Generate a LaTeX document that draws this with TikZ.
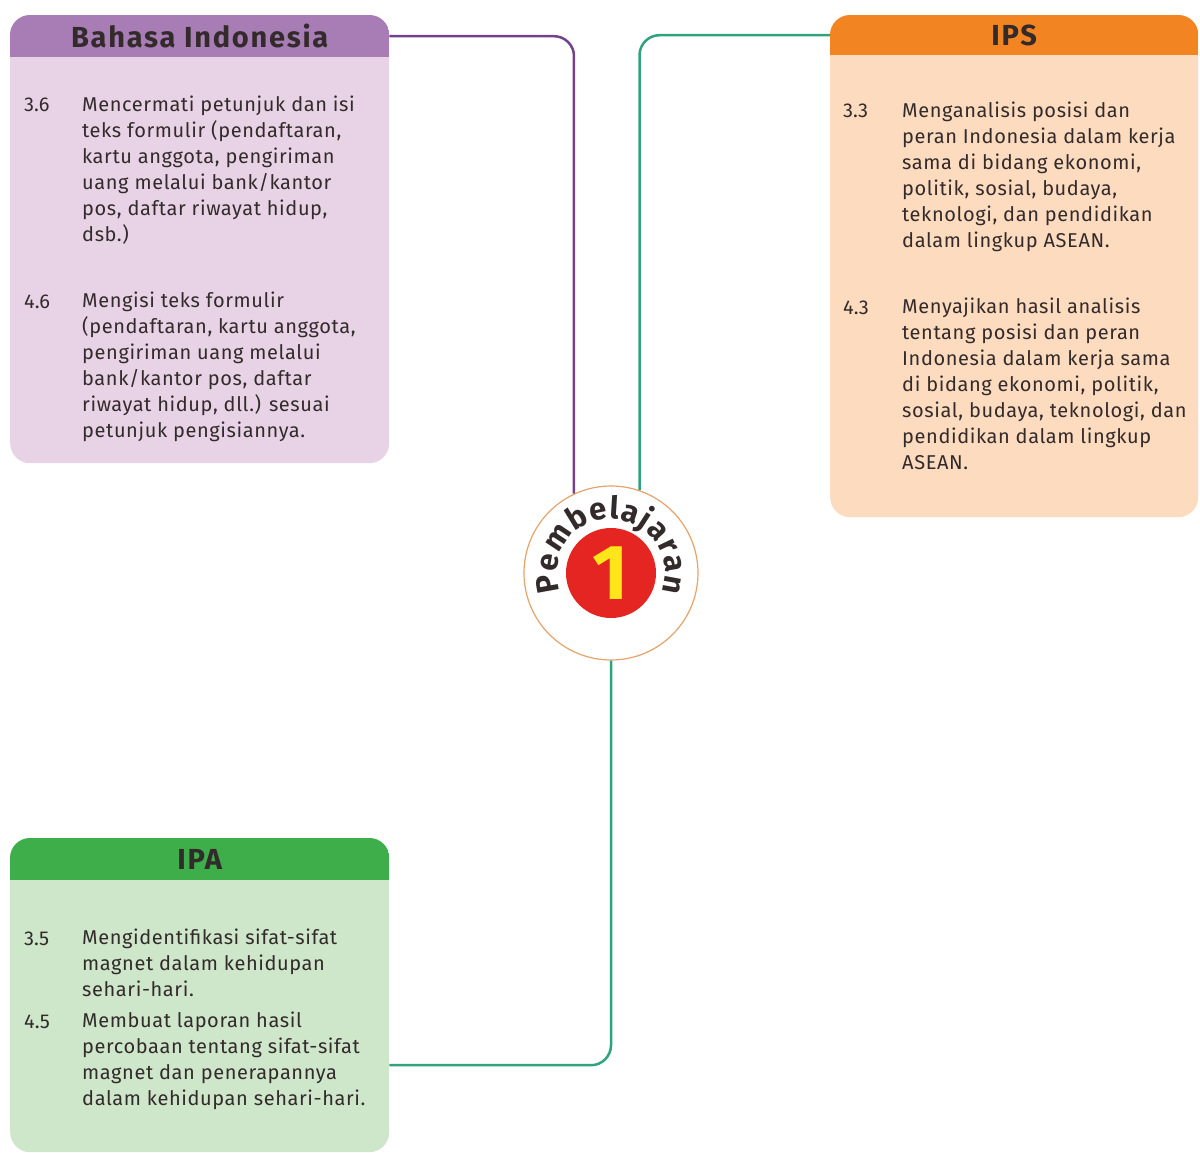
\documentclass[tikz,border=0pt]{standalone}
\usepackage{fontspec}
\setmainfont{Fira Sans}
\usetikzlibrary{decorations.text}
\definecolor{bihdr}{HTML}{A87DB6}
\definecolor{bibody}{HTML}{E8D3E6}
\definecolor{ipshdr}{HTML}{F28522}
\definecolor{ipsbody}{HTML}{FDDBBF}
\definecolor{ipahdr}{HTML}{3EAE4A}
\definecolor{ipabody}{HTML}{CEE6CA}
\definecolor{txt}{HTML}{332B2B}
\definecolor{lnpurple}{HTML}{74428A}
\definecolor{lngreen}{HTML}{2FA37C}
\definecolor{ring}{HTML}{E6A36A}
\definecolor{redc}{HTML}{E42521}
\definecolor{yel}{HTML}{FFE51A}
\begin{document}
\begin{tikzpicture}[x=1pt,y=1pt,
 panel/.style={rectangle, rounded corners=20pt, inner sep=0, anchor=north west},
 hdr/.style={rectangle, inner sep=0, anchor=north west, font=\fontsize{29}{30}\selectfont\bfseries\addfontfeatures{LetterSpace=6}, text=txt},
 num/.style={inner sep=0, anchor=base west, font=\fontsize{20}{26}\selectfont, text=txt},
 item/.style={inner sep=0, anchor=north west, align=left, font=\fontsize{20}{26}\selectfont\addfontfeatures{LetterSpace=3}, text=txt, execute at begin node={\rule{0pt}{16pt}}},
 link/.style={line width=2.5pt, rounded corners=20pt},
]
\useasboundingbox (0,0) rectangle (1200,-1153);
% panels
\node[panel, fill=bibody, minimum width=379pt, minimum height=448pt] (bi) at (10,-15) {};
\begin{scope}
\clip[rounded corners=20pt] (bi.north west) rectangle (bi.south east);
\node[hdr, fill=bihdr, minimum width=379pt, minimum height=42pt] (bih) at (bi.north west) {Bahasa Indonesia};
\end{scope}
\node[panel, fill=ipsbody, minimum width=368pt, minimum height=502pt] (ips) at (830,-15) {};
\begin{scope}
\clip[rounded corners=20pt] (ips.north west) rectangle (ips.south east);
\node[hdr, fill=ipshdr, minimum width=368pt, minimum height=40pt] (ipsh) at (ips.north west) {IPS};
\end{scope}
\node[panel, fill=ipabody, minimum width=379pt, minimum height=314pt] (ipa) at (10,-838) {};
\begin{scope}
\clip[rounded corners=20pt] (ipa.north west) rectangle (ipa.south east);
\node[hdr, fill=ipahdr, minimum width=379pt, minimum height=42pt] (ipah) at (ipa.north west) {IPA};
\end{scope}
% texts Bahasa
\node[num] (n36) at (24,-112) {3.6};
\node[item] (t36) at (82,-96) {Mencermati petunjuk dan isi\\teks formulir (pendaftaran,\\kartu anggota, pengiriman\\uang melalui bank/kantor\\pos, daftar riwayat hidup,\\dsb.)};
\node[num] (n46) at (24,-308) {4.6};
\node[item] (t46) at (82,-292) {Mengisi teks formulir\\(pendaftaran, kartu anggota,\\pengiriman uang melalui\\bank/kantor pos, daftar\\riwayat hidup, dll.) sesuai\\petunjuk pengisiannya.};
% texts IPS
\node[num] (n33) at (843,-118) {3.3};
\node[item] (t33) at (902,-102) {Menganalisis posisi dan\\peran Indonesia dalam kerja\\sama di bidang ekonomi,\\politik, sosial, budaya,\\teknologi, dan pendidikan\\dalam lingkup ASEAN.};
\node[num] (n43) at (843,-314) {4.3};
\node[item] (t43) at (902,-298) {Menyajikan hasil analisis\\tentang posisi dan peran\\Indonesia dalam kerja sama\\di bidang ekonomi, politik,\\sosial, budaya, teknologi, dan\\pendidikan dalam lingkup\\ASEAN.};
% texts IPA
\node[num] (n35) at (24,-945) {3.5};
\node[item] (t35) at (82,-929) {Mengidentifikasi sifat-sifat\\magnet dalam kehidupan\\sehari-hari.};
\node[num] (n45) at (24,-1028) {4.5};
\node[item] (t45) at (82,-1012) {Membuat laporan hasil\\percobaan tentang sifat-sifat\\magnet dan penerapannya\\dalam kehidupan sehari-hari.};
% centre
\node[circle, draw=ring, line width=1.2pt, fill=white, minimum size=174pt, inner sep=0] (circ) at (611,-573) {};
\draw[link, lnpurple] (bih.east) -| (circ.115);
\draw[link, lngreen] (ipsh.west) -| (circ.71);
\draw[link, lngreen] (circ.south) |- ([yshift=-70pt]ipa.east);
\node[circle, fill=redc, minimum size=90pt, inner sep=0] (red) at (circ.center) {};
\node[inner sep=0, font=\fontsize{78}{78}\selectfont\bfseries, text=yel] (one) at (red.center) {1};
\path[decorate, decoration={text along path, text color=txt, text align={fit to path},
  text={|\fontsize{31}{31}\selectfont\bfseries|Pembelajaran}}]
  (circ.center) ++(200:54) arc[start angle=200, end angle=-20, radius=54];
\end{tikzpicture}
\end{document}
